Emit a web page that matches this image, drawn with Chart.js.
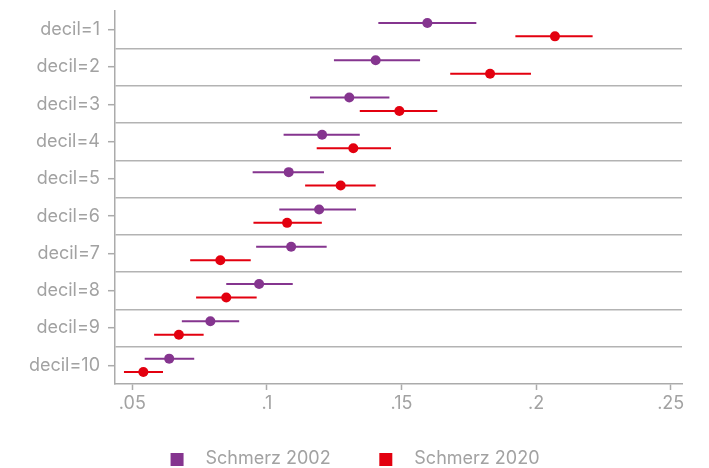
<!DOCTYPE html>
<html>
<head>
<meta charset="utf-8">
<script src="https://cdn.jsdelivr.net/npm/chart.js@4"></script>
<style>
  html, body { margin: 0; padding: 0; background: #ffffff; }
  #wrap { width: 709px; height: 468px; }
</style>
</head>
<body>
<div id="wrap"><canvas id="c" width="709" height="468"></canvas></div>
<script>
// Decile groups and their axis labels
const deciles = ['decil=1', 'decil=2', 'decil=3', 'decil=4', 'decil=5',
                 'decil=6', 'decil=7', 'decil=8', 'decil=9', 'decil=10'];

// Estimated share with confidence interval, survey 2002
const est2002 = [0.1596, 0.1404, 0.1306, 0.1205, 0.1081, 0.1194, 0.1090, 0.0971, 0.0790, 0.0637];
const lo2002  = [0.1414, 0.1249, 0.1160, 0.1062, 0.0947, 0.1046, 0.0960, 0.0849, 0.0684, 0.0546];
const hi2002  = [0.1778, 0.1569, 0.1455, 0.1345, 0.1212, 0.1331, 0.1222, 0.1096, 0.0897, 0.0730];

// Estimated share with confidence interval, survey 2020
const est2020 = [0.2070, 0.1829, 0.1492, 0.1321, 0.1274, 0.1075, 0.0827, 0.0849, 0.0673, 0.0541];
const lo2020  = [0.1923, 0.1681, 0.1345, 0.1185, 0.1142, 0.0950, 0.0715, 0.0737, 0.0581, 0.0469];
const hi2020  = [0.2210, 0.1981, 0.1633, 0.1461, 0.1404, 0.1204, 0.0940, 0.0962, 0.0765, 0.0614];

const seriesNames = ['Schmerz 2002', 'Schmerz 2020'];
const xTickValues = [0.05, 0.10, 0.15, 0.20, 0.25];
const xTickLabels = ['.05', '.1', '.15', '.2', '.25'];

const PURPLE = '#85358f';
const RED = '#e3000f';
const GREY_TEXT = '#a2a2a2';
const GREY_LINE = '#ababab';
const DODGE = 0.18;   // vertical shift of each series within its decile row
const FONT = { family: 'Inter', size: 18 };

function points(est, shift) {
  return est.map((v, i) => ({ x: v, y: i + 1 + shift }));
}
// Interval segments, separated by gaps so each decile gets its own line
function intervals(lo, hi, shift) {
  const out = [];
  lo.forEach((l, i) => {
    const y = i + 1 + shift;
    out.push({ x: l, y: y }, { x: hi[i], y: y }, { x: hi[i], y: null });
  });
  return out;
}
// Legend swatch: a square placed toward the right edge of a wider canvas
const SWATCH_W = 54;
function swatch(color) {
  const c = document.createElement('canvas');
  c.width = SWATCH_W; c.height = 13;
  const g = c.getContext('2d');
  g.fillStyle = color;
  g.fillRect(SWATCH_W - 26, 0, 13, 13);
  return c;
}
const swatches = [swatch(PURPLE), swatch(RED)];

new Chart(document.getElementById('c'), {
  type: 'scatter',
  data: {
    datasets: [
      { label: seriesNames[0], data: points(est2002, -DODGE), backgroundColor: PURPLE,
        borderColor: PURPLE, pointRadius: 5, pointHoverRadius: 5, pointBorderWidth: 0 },
      { label: seriesNames[1], data: points(est2020, DODGE), backgroundColor: RED,
        borderColor: RED, pointRadius: 5, pointHoverRadius: 5, pointBorderWidth: 0 },
      { label: 'ci2002', data: intervals(lo2002, hi2002, -DODGE), showLine: true, spanGaps: false,
        borderColor: PURPLE, borderWidth: 2, pointRadius: 0, pointHoverRadius: 0 },
      { label: 'ci2020', data: intervals(lo2020, hi2020, DODGE), showLine: true, spanGaps: false,
        borderColor: RED, borderWidth: 2, pointRadius: 0, pointHoverRadius: 0 }
    ]
  },
  options: {
    responsive: false,
    animation: false,
    layout: { padding: { top: 11, right: 27, bottom: -10, left: 0 } },
    scales: {
      x: {
        type: 'linear',
        min: 0.04357,
        max: 0.2542,
        afterBuildTicks: (s) => { s.ticks = xTickValues.map(v => ({ value: v })); },
        afterFit: (s) => { s.height = 45.4; },
        ticks: {
          font: FONT, color: GREY_TEXT, padding: 3, autoSkip: false, maxRotation: 0,
          callback: (v, i) => xTickLabels[i]
        },
        grid: { drawOnChartArea: false, tickLength: 6, tickColor: GREY_LINE, tickWidth: 1.5 },
        border: { color: GREY_LINE, width: 1.5 }
      },
      y: {
        type: 'linear',
        reverse: true,
        min: 0.5,
        max: 10.5,
        afterBuildTicks: (s) => {
          const t = [];
          for (let k = 1; k <= 10; k += 0.5) t.push({ value: k });
          s.ticks = t;
        },
        afterFit: (s) => { s.width = 115; s.paddingTop = 0; s.paddingBottom = 0; },
        ticks: {
          font: FONT, color: GREY_TEXT, padding: 8, autoSkip: false,
          callback: (v) => Number.isInteger(v) ? deciles[v - 1] : ''
        },
        grid: {
          tickLength: 7,
          lineWidth: 1.4,
          tickWidth: 1.5,
          color: (ctx) => (ctx.tick && !Number.isInteger(ctx.tick.value)) ? '#b3b3b3' : 'rgba(0,0,0,0)',
          tickColor: (ctx) => (ctx.tick && Number.isInteger(ctx.tick.value)) ? GREY_LINE : 'rgba(0,0,0,0)'
        },
        border: { color: GREY_LINE, width: 1.5 }
      }
    },
    plugins: {
      tooltip: { enabled: false },
      legend: {
        position: 'bottom',
        labels: {
          font: FONT,
          color: GREY_TEXT,
          usePointStyle: true,
          pointStyleWidth: SWATCH_W,
          boxHeight: 13,
          padding: 20.6,
          generateLabels: (chart) => {
            const items = Chart.defaults.plugins.legend.labels.generateLabels(chart)
              .filter(it => it.datasetIndex < 2);
            items.forEach(it => { it.pointStyle = swatches[it.datasetIndex]; });
            return items;
          }
        }
      }
    }
  }
});
</script>
</body>
</html>
